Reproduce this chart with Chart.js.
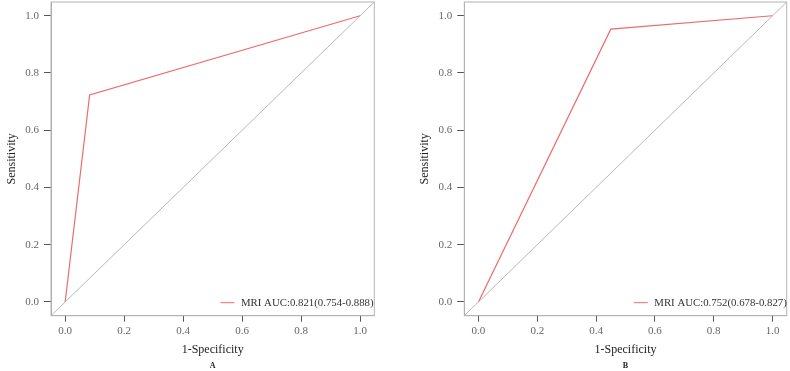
<!DOCTYPE html>
<html>
<head>
<meta charset="utf-8">
<script src="https://cdn.jsdelivr.net/npm/chart.js@4.4.1/dist/chart.umd.min.js"></script>
<style>
  html, body { margin: 0; padding: 0; background: #fff; overflow: hidden; }
  .panel { position: absolute; top: 0; height: 371px; }
</style>
</head>
<body>
<div class="panel" style="left:0;width:395px"><canvas id="rocA" width="395" height="371"></canvas></div>
<div class="panel" style="left:413px;width:377px"><canvas id="rocB" width="377" height="371"></canvas></div>
<script>
// ROC points (1-Specificity, Sensitivity)
const fprA = [0, 0.083, 1];
const tprA = [0, 0.723, 1];
const fprB = [0, 0.450, 1];
const tprB = [0, 0.953, 1];
const refLine = [-0.048, 1.048]; // diagonal through the whole plot box
const axisTicks = [0, 0.2, 0.4, 0.6, 0.8, 1.0];
const labelA = 'MRI AUC:0.821(0.754-0.888)';
const labelB = 'MRI AUC:0.752(0.678-0.827)';

const serif = "'Liberation Serif', 'Times New Roman', serif";
const rocRed = '#ee6b6b';

// box round the plot area
const boxPlugin = {
    id: 'box',
    afterDraw(chart) {
        const a = chart.chartArea, ctx = chart.ctx;
        ctx.save();
        ctx.strokeStyle = '#b4b4b4';
        ctx.lineWidth = 1;
        ctx.strokeRect(a.left, a.top, a.right - a.left, a.bottom - a.top);
        ctx.restore();
    }
};

// legend inside the plot, bottom right
const rocLegend = {
    id: 'rocLegend',
    afterDraw(chart) {
        const a = chart.chartArea, ctx = chart.ctx;
        const ds = chart.data.datasets[1];
        const x = a.left + 169.5, y = a.bottom - 13;
        ctx.save();
        ctx.strokeStyle = ds.borderColor;
        ctx.lineWidth = 1;
        ctx.beginPath();
        ctx.moveTo(x, y);
        ctx.lineTo(x + 14, y);
        ctx.stroke();
        ctx.fillStyle = '#333';
        ctx.font = '10.8px ' + serif;
        ctx.textBaseline = 'middle';
        ctx.fillText(ds.label, x + 20.5, y);
        ctx.restore();
    }
};

function makeAxis(titleText, isX, size) {
    return {
        type: 'linear',
        min: -0.048,
        max: 1.048,
        afterBuildTicks: (scale) => { scale.ticks = axisTicks.map(v => ({ value: v })); },
        afterFit: (scale) => {
            if (isX) scale.height = size; else scale.width = size;
            // labels sit well inside the range, no extra margins needed
            scale.paddingTop = 0; scale.paddingBottom = 0;
            scale.paddingLeft = 0; scale.paddingRight = 0;
        },
        border: { display: true, color: '#a8a8a8', width: 1 },
        grid: { drawOnChartArea: false, drawTicks: true, tickLength: isX ? 6 : 7, color: '#555', tickWidth: 1 },
        ticks: {
            color: '#666',
            padding: isX ? 3 : 5,
            font: { family: serif, size: 11 },
            callback: (v) => v.toFixed(1)
        },
        title: {
            display: true,
            text: titleText,
            color: '#222',
            font: { family: serif, size: 12 },
            padding: isX ? { top: 0, bottom: 4 } : { top: 4.5, bottom: 0 }
        }
    };
}

function renderRoc(id, fpr, tpr, label, letter, yWidth, padRight) {
    new Chart(document.getElementById(id), {
        type: 'line',
        data: {
            datasets: [
                {
                    label: 'ref',
                    data: refLine.map(v => ({ x: v, y: v })),
                    borderColor: '#b8b8b8',
                    borderWidth: 1,
                    pointRadius: 0
                },
                {
                    label: label,
                    data: fpr.map((v, i) => ({ x: v, y: tpr[i] })),
                    borderColor: rocRed,
                    borderWidth: 1.2,
                    pointRadius: 0,
                    tension: 0
                }
            ]
        },
        options: {
            responsive: false,
            animation: false,
            devicePixelRatio: 1,
            layout: { padding: { top: 2, left: 0, right: padRight, bottom: 0 } },
            scales: {
                x: makeAxis('1-Specificity', true, 45.7),
                y: makeAxis('Sensitivity', false, yWidth)
            },
            plugins: {
                legend: { display: false },
                tooltip: { enabled: false },
                subtitle: {
                    display: true,
                    text: letter,
                    position: 'bottom',
                    fullSize: false,
                    color: '#222',
                    font: { family: serif, size: 8, weight: 'bold', lineHeight: 1.2 },
                    padding: 0
                }
            }
        },
        plugins: [boxPlugin, rocLegend]
    });
}

renderRoc('rocA', fprA, tprA, labelA, 'A', 51, 20.7);
renderRoc('rocB', fprB, tprB, labelB, 'B', 51.3, 3.3);
</script>
</body>
</html>
